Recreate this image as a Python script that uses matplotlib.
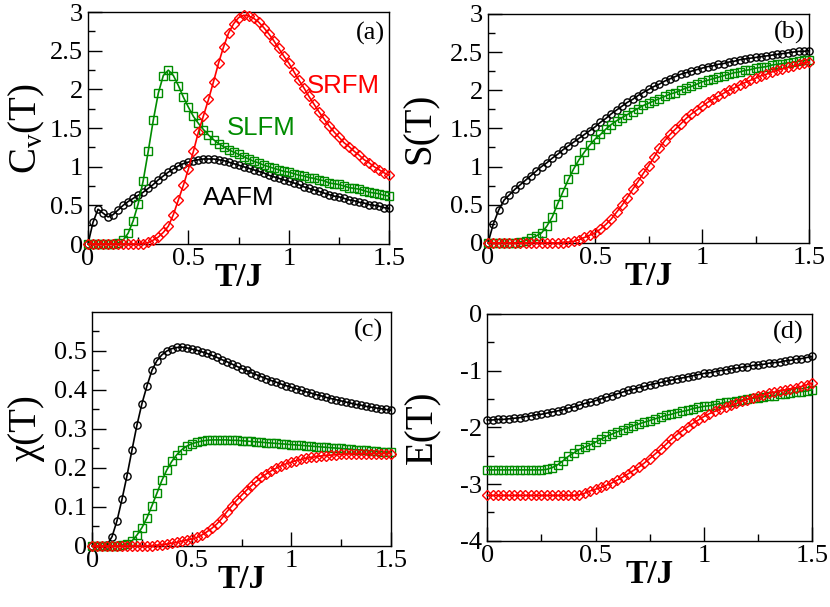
import numpy as np
import matplotlib
matplotlib.use("Agg")
import matplotlib.pyplot as plt
from matplotlib.ticker import MultipleLocator, FixedLocator, FuncFormatter

plt.rcParams['font.family'] = ['Liberation Serif', 'DejaVu Serif']
plt.rcParams['mathtext.fontset'] = 'custom'
plt.rcParams['mathtext.rm'] = 'Liberation Serif'

# temperature grid T/J (step 0.025)
T = np.round(np.arange(0, 1.5001, 0.025), 3)

# ---- (a) specific heat ----
cv_aafm = [0.00, 0.28, 0.45, 0.40, 0.35, 0.38, 0.44, 0.50, 0.55, 0.59,
           0.63, 0.67, 0.72, 0.77, 0.83, 0.88, 0.93, 0.97, 1.01, 1.04,
           1.06, 1.08, 1.09, 1.10, 1.10, 1.10, 1.09, 1.08, 1.06, 1.04,
           1.02, 1.00, 0.98, 0.96, 0.94, 0.92, 0.89, 0.87, 0.85, 0.83,
           0.81, 0.79, 0.77, 0.74, 0.72, 0.70, 0.68, 0.66, 0.64, 0.62,
           0.61, 0.59, 0.57, 0.56, 0.54, 0.53, 0.51, 0.50, 0.49, 0.47, 0.46]
cv_slfm = [0.00, 0.00, 0.00, 0.00, 0.00, 0.002, 0.01, 0.05, 0.14, 0.30,
           0.52, 0.82, 1.20, 1.60, 1.95, 2.18, 2.25, 2.18, 2.05, 1.90,
           1.77, 1.65, 1.56, 1.48, 1.41, 1.35, 1.30, 1.26, 1.22, 1.19,
           1.16, 1.13, 1.10, 1.07, 1.05, 1.02, 1.00, 0.98, 0.96, 0.94,
           0.93, 0.91, 0.89, 0.88, 0.86, 0.85, 0.83, 0.82, 0.79, 0.78,
           0.77, 0.75, 0.73, 0.72, 0.71, 0.69, 0.67, 0.66, 0.65, 0.63, 0.62]
cv_srfm = [0.00, 0.00, 0.00, 0.00, 0.00, 0.00, 0.00, 0.00, 0.00, 0.00,
           0.00, 0.005, 0.02, 0.05, 0.09, 0.15, 0.23, 0.38, 0.57, 0.76,
           0.97, 1.20, 1.45, 1.66, 1.87, 2.10, 2.34, 2.55, 2.73, 2.85,
           2.93, 2.96, 2.95, 2.92, 2.87, 2.80, 2.72, 2.63, 2.53, 2.43,
           2.34, 2.23, 2.12, 2.02, 1.91, 1.81, 1.71, 1.62, 1.53, 1.45,
           1.38, 1.31, 1.26, 1.20, 1.15, 1.09, 1.05, 1.00, 0.96, 0.92, 0.89]

# ---- (b) entropy ----
s_aafm = [0.00, 0.25, 0.43, 0.56, 0.63, 0.70, 0.76, 0.82, 0.88, 0.94,
          1.00, 1.05, 1.11, 1.16, 1.22, 1.27, 1.32, 1.37, 1.42, 1.47,
          1.52, 1.58, 1.63, 1.69, 1.74, 1.79, 1.84, 1.88, 1.93, 1.97,
          2.01, 2.05, 2.08, 2.12, 2.15, 2.18, 2.21, 2.23, 2.25, 2.27,
          2.29, 2.31, 2.32, 2.34, 2.35, 2.37, 2.38, 2.40, 2.41, 2.42,
          2.43, 2.44, 2.45, 2.46, 2.47, 2.48, 2.49, 2.50, 2.51, 2.51, 2.52]
s_slfm = [0.00, 0.00, 0.00, 0.00, 0.00, 0.00, 0.01, 0.03, 0.06, 0.09,
          0.13, 0.22, 0.34, 0.51, 0.67, 0.83, 0.97, 1.09, 1.19, 1.28,
          1.36, 1.42, 1.49, 1.55, 1.60, 1.64, 1.68, 1.72, 1.76, 1.80,
          1.83, 1.86, 1.89, 1.92, 1.95, 1.97, 2.00, 2.03, 2.05, 2.08,
          2.11, 2.13, 2.15, 2.17, 2.19, 2.21, 2.23, 2.24, 2.26, 2.27,
          2.29, 2.30, 2.31, 2.33, 2.34, 2.35, 2.36, 2.37, 2.38, 2.39, 2.40]
s_srfm = [0.00, 0.00, 0.00, 0.00, 0.00, 0.00, 0.00, 0.00, 0.00, 0.00,
          0.00, 0.00, 0.00, 0.00, 0.003, 0.01, 0.02, 0.04, 0.07, 0.10,
          0.13, 0.18, 0.24, 0.31, 0.40, 0.49, 0.59, 0.70, 0.80, 0.91,
          1.01, 1.12, 1.24, 1.34, 1.42, 1.49, 1.56, 1.63, 1.69, 1.74,
          1.79, 1.84, 1.88, 1.92, 1.96, 2.00, 2.03, 2.07, 2.10, 2.13,
          2.16, 2.19, 2.21, 2.24, 2.26, 2.28, 2.30, 2.32, 2.34, 2.355, 2.37]

# ---- (c) susceptibility ----
chi_aafm = [0.000, 0.000, 0.000, 0.003, 0.024, 0.065, 0.120, 0.180, 0.246, 0.310,
            0.365, 0.410, 0.450, 0.475, 0.490, 0.500, 0.506, 0.509, 0.510, 0.508,
            0.505, 0.502, 0.498, 0.494, 0.489, 0.484, 0.478, 0.473, 0.467, 0.461,
            0.455, 0.450, 0.444, 0.439, 0.434, 0.429, 0.424, 0.420, 0.415, 0.411,
            0.407, 0.403, 0.399, 0.395, 0.392, 0.388, 0.385, 0.381, 0.378, 0.375,
            0.372, 0.369, 0.366, 0.363, 0.361, 0.358, 0.356, 0.354, 0.352, 0.350, 0.348]
chi_slfm = [0.000, 0.000, 0.000, 0.000, 0.000, 0.000, 0.002, 0.005, 0.013, 0.028,
            0.047, 0.072, 0.103, 0.135, 0.168, 0.195, 0.217, 0.234, 0.247, 0.256,
            0.262, 0.266, 0.269, 0.271, 0.272, 0.272, 0.272, 0.272, 0.271, 0.271,
            0.270, 0.269, 0.268, 0.267, 0.266, 0.265, 0.264, 0.263, 0.262, 0.261,
            0.260, 0.259, 0.258, 0.257, 0.256, 0.255, 0.254, 0.253, 0.252, 0.251,
            0.250, 0.249, 0.248, 0.247, 0.246, 0.245, 0.244, 0.243, 0.242, 0.241, 0.240]
chi_srfm = [0.000, 0.000, 0.000, 0.000, 0.000, 0.000, 0.000, 0.000, 0.000, 0.000,
            0.000, 0.000, 0.000, 0.002, 0.003, 0.005, 0.007, 0.009, 0.012, 0.015,
            0.018, 0.022, 0.028, 0.036, 0.045, 0.056, 0.070, 0.087, 0.102, 0.117,
            0.130, 0.143, 0.155, 0.166, 0.176, 0.185, 0.193, 0.200, 0.206, 0.211,
            0.215, 0.219, 0.222, 0.225, 0.227, 0.229, 0.231, 0.232, 0.233, 0.234,
            0.235, 0.236, 0.236, 0.237, 0.237, 0.237, 0.237, 0.237, 0.237, 0.237, 0.237]

# ---- (d) energy ----
e_aafm = [-1.87, -1.87, -1.86, -1.86, -1.85, -1.84, -1.83, -1.81, -1.80, -1.78,
          -1.77, -1.75, -1.73, -1.71, -1.69, -1.66, -1.64, -1.61, -1.58, -1.56,
          -1.53, -1.50, -1.47, -1.44, -1.41, -1.38, -1.35, -1.33, -1.30, -1.28,
          -1.25, -1.23, -1.21, -1.19, -1.17, -1.15, -1.13, -1.11, -1.09, -1.07,
          -1.05, -1.04, -1.02, -1.00, -0.99, -0.97, -0.96, -0.94, -0.93, -0.91,
          -0.90, -0.89, -0.87, -0.86, -0.85, -0.83, -0.82, -0.80, -0.79, -0.77, -0.75]
e_slfm = [-2.75, -2.75, -2.75, -2.75, -2.75, -2.75, -2.75, -2.75, -2.75, -2.75,
          -2.75, -2.74, -2.71, -2.66, -2.59, -2.51, -2.45, -2.39, -2.35, -2.31,
          -2.26, -2.21, -2.16, -2.12, -2.08, -2.04, -2.01, -1.97, -1.94, -1.91,
          -1.88, -1.85, -1.82, -1.79, -1.77, -1.74, -1.72, -1.70, -1.67, -1.65,
          -1.63, -1.62, -1.60, -1.58, -1.56, -1.55, -1.53, -1.52, -1.50, -1.49,
          -1.48, -1.46, -1.45, -1.44, -1.42, -1.41, -1.40, -1.38, -1.37, -1.36, -1.34]
e_srfm = [-3.20, -3.20, -3.20, -3.20, -3.20, -3.20, -3.20, -3.20, -3.20, -3.20,
          -3.20, -3.20, -3.20, -3.20, -3.20, -3.20, -3.20, -3.19, -3.16, -3.12,
          -3.09, -3.06, -3.02, -2.98, -2.93, -2.88, -2.82, -2.76, -2.70, -2.63,
          -2.55, -2.47, -2.39, -2.30, -2.21, -2.13, -2.06, -1.99, -1.93, -1.87,
          -1.81, -1.76, -1.72, -1.68, -1.64, -1.61, -1.58, -1.54, -1.51, -1.48,
          -1.45, -1.43, -1.40, -1.38, -1.36, -1.34, -1.32, -1.30, -1.28, -1.25, -1.22]

GREEN = '#008c00'
styles = [('black', 'o'), (GREEN, 's'), ('red', 'D')]

fig = plt.figure(figsize=(8.30, 6.07), dpi=100)
rects = {
    'a': [0.106, 0.598, 0.363, 0.382],
    'b': [0.588, 0.600, 0.387, 0.377],
    'c': [0.111, 0.1005, 0.360, 0.3855],
    'd': [0.587, 0.109, 0.3915, 0.374],
}

fmt = FuncFormatter(lambda v, p: ('%g' % v).replace('\u2212', '-'))


def style_axes(ax, ylim, ymaj, ymin, yticks=None):
    ax.set_xlim(0, 1.5)
    ax.set_ylim(*ylim)
    ax.xaxis.set_major_locator(MultipleLocator(0.5))
    ax.xaxis.set_minor_locator(MultipleLocator(0.25))
    if yticks is None:
        ax.yaxis.set_major_locator(MultipleLocator(ymaj))
        ax.yaxis.set_minor_locator(MultipleLocator(ymin))
    else:
        ax.yaxis.set_major_locator(FixedLocator(yticks[0]))
        ax.yaxis.set_minor_locator(FixedLocator(yticks[1]))
    ax.xaxis.set_major_formatter(fmt)
    ax.yaxis.set_major_formatter(fmt)
    ax.tick_params(which='both', direction='in', top=False, right=False,
                   labelsize=19, width=1.0)
    ax.tick_params(axis='x', which='both', pad=3)
    ax.tick_params(axis='y', which='both', pad=3.7)
    ax.tick_params(which='major', length=10)
    ax.tick_params(which='minor', length=5)
    for sp in ax.spines.values():
        sp.set_linewidth(1.0)
    ax.set_xlabel('T/J', fontsize=24, fontweight='bold', labelpad=-6)


def draw(ax, series):
    for (c, m), y in zip(styles, series):
        ax.plot(T, y, color=c, lw=1.2, marker=m, ms=5.2 if m != 'D' else 4.8,
                mfc='none', mec=c, mew=1.0, clip_on=False, zorder=3)


axa = fig.add_axes(rects['a'])
draw(axa, [cv_aafm, cv_slfm, cv_srfm])
style_axes(axa, (0, 3), 0.5, 0.25)
axa.set_ylabel(r'C$_{\mathrm{v}}$(T)', fontsize=28)
axa.yaxis.set_label_coords(-0.135, 0.5)
axa.text(1.272, 2.04, 'SRFM', color='red', fontsize=18.5, family='Liberation Sans', ha='center', va='center')
axa.text(0.862, 1.50, 'SLFM', color=GREEN, fontsize=18.5, family='Liberation Sans', ha='center', va='center')
axa.text(0.75, 0.60, 'AAFM', color='black', fontsize=18.5, family='Liberation Sans', ha='center', va='center')
axa.text(0.937, 0.909, '(a)', transform=axa.transAxes, fontsize=19, ha='center', va='center')

axb = fig.add_axes(rects['b'])
draw(axb, [s_aafm, s_slfm, s_srfm])
style_axes(axb, (0, 3), 0.5, 0.25)
axb.set_ylabel('S(T)', fontsize=28)
axb.yaxis.set_label_coords(-0.153, 0.5)
axb.text(0.938, 0.919, '(b)', transform=axb.transAxes, fontsize=19, ha='center', va='center')

axc = fig.add_axes(rects['c'])
draw(axc, [chi_aafm, chi_slfm, chi_srfm])
style_axes(axc, (0, 0.6), 0.1, 0.05,
           yticks=([0, 0.1, 0.2, 0.3, 0.4, 0.5],
                   [0.05, 0.15, 0.25, 0.35, 0.45, 0.55]))
axc.set_ylabel('χ(T)', fontsize=28)
axc.yaxis.set_label_coords(-0.159, 0.5)
axc.text(0.926, 0.919, '(c)', transform=axc.transAxes, fontsize=19, ha='center', va='center')

axd = fig.add_axes(rects['d'])
draw(axd, [e_aafm, e_slfm, e_srfm])
style_axes(axd, (-4, 0), 1, 0.5)
axd.set_ylabel('E(T)', fontsize=28)
axd.yaxis.set_label_coords(-0.140, 0.5)
axd.text(0.926, 0.918, '(d)', transform=axd.transAxes, fontsize=19, ha='center', va='center')

fig.savefig('out.png', dpi=100)
